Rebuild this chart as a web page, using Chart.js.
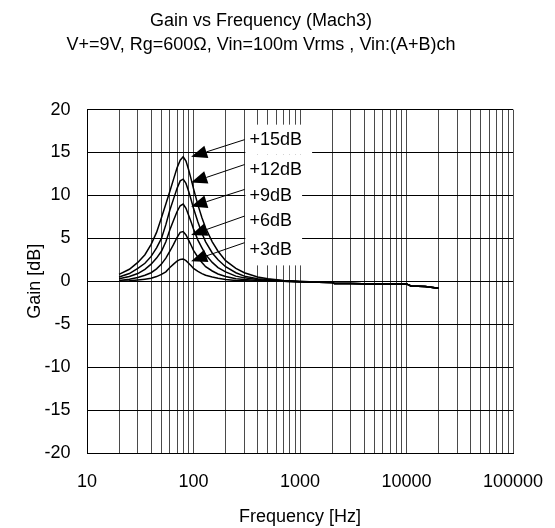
<!DOCTYPE html>
<html>
<head>
<meta charset="utf-8">
<script src="https://cdn.jsdelivr.net/npm/chart.js@4"></script>
<style>
  body { margin: 0; background: #fff; }
  canvas { display: block; }
</style>
</head>
<body>
<canvas id="gain-chart" width="555" height="528"></canvas>
<script>
Chart.defaults.font.family = "'Liberation Sans', Arial, sans-serif";
Chart.defaults.font.size = 18;
Chart.defaults.color = '#000';

// frequency points [Hz]
const freq = [20, 25, 30, 35, 40, 45, 50, 55, 60, 65, 70, 75, 80, 85, 90, 95, 100, 110, 120, 130,
    150, 170, 200, 250, 300, 400, 500, 700, 1000, 1500, 2000, 2100, 3000, 5000, 7000, 10000, 11000, 15000, 20000];

// gain [dB] for each boost setting
const gain15 = [0.8, 1.4, 2.2, 3.1, 4.3, 5.7, 7.4, 9.0, 10.5, 11.9, 13.2, 14.1, 14.5, 14.0, 13.0, 11.9, 10.8, 8.9, 7.4, 6.2,
    4.6, 3.5, 2.4, 1.5, 1.0, 0.5, 0.3, 0.1, 0.0, -0.1, -0.15, -0.25, -0.25, -0.3, -0.3, -0.3, -0.55, -0.6, -0.8];
const gain12 = [0.5, 0.9, 1.5, 2.1, 2.9, 3.9, 5.0, 6.6, 8.3, 9.6, 10.8, 11.7, 11.9, 11.4, 10.5, 9.5, 8.5, 6.9, 5.6, 4.6,
    3.3, 2.5, 1.7, 1.0, 0.6, 0.3, 0.2, 0.05, -0.05, -0.1, -0.15, -0.25, -0.25, -0.3, -0.3, -0.3, -0.55, -0.6, -0.8];
const gain9 = [0.3, 0.55, 0.9, 1.4, 2.0, 2.7, 3.5, 4.6, 6.0, 7.1, 8.1, 8.8, 9.0, 8.5, 7.7, 6.9, 6.1, 4.8, 3.9, 3.1,
    2.2, 1.6, 1.1, 0.6, 0.4, 0.2, 0.1, 0.0, -0.05, -0.1, -0.15, -0.25, -0.25, -0.3, -0.3, -0.3, -0.55, -0.6, -0.8];
const gain6 = [0.1, 0.25, 0.45, 0.7, 1.0, 1.45, 2.0, 2.7, 3.5, 4.3, 5.1, 5.7, 5.8, 5.4, 4.8, 4.2, 3.6, 2.8, 2.2, 1.7,
    1.2, 0.85, 0.55, 0.3, 0.2, 0.1, 0.05, 0.0, -0.05, -0.1, -0.15, -0.25, -0.25, -0.3, -0.3, -0.3, -0.55, -0.6, -0.8];
const gain3 = [0.0, 0.05, 0.15, 0.25, 0.35, 0.55, 0.8, 1.1, 1.6, 2.0, 2.35, 2.55, 2.6, 2.4, 2.1, 1.8, 1.5, 1.15, 0.9, 0.7,
    0.5, 0.35, 0.2, 0.1, 0.05, 0.0, 0.0, 0.0, -0.05, -0.1, -0.15, -0.25, -0.25, -0.3, -0.3, -0.3, -0.55, -0.6, -0.8];

// annotation labels and arrows
const labelText = ['+15dB', '+12dB', '+9dB', '+6dB', '+3dB'];
const labelDb = [16.5, 13.0, 9.9, 7.0, 3.6];
const arrowStartDb = [16.5, 13.6, 10.7, 7.6, 4.5];
const arrowTipDb = [14.5, 11.5, 8.7, 5.4, 2.35];
const arrowStartHz = 302;
const arrowTipHz = 95;
const labelHz = 336;

// x grid: 1..9 x each decade
const xGridValues = [];
for (let decade = 10; decade < 100000; decade *= 10) {
    for (let m = 1; m <= 9; m++) xGridValues.push(decade * m);
}
xGridValues.push(100000);

const series = [gain15, gain12, gain9, gain6, gain3];

function toPoints(values) {
    return freq.map((f, i) => ({ x: f, y: values[i] }));
}

const annotations = {
    id: 'annotations',
    afterDatasetsDraw(chart) {
        const { ctx, scales: { x, y } } = chart;
        ctx.save();
        ctx.font = "18px 'Liberation Sans', Arial, sans-serif";
        ctx.textBaseline = 'middle';
        ctx.textAlign = 'left';

        const boxLeft = x.getPixelForValue(300) + 1;
        const textLeft = x.getPixelForValue(labelHz);

        // white boxes behind labels
        ctx.fillStyle = '#fff';
        labelText.forEach((text, i) => {
            const cy = y.getPixelForValue(labelDb[i]);
            const right = textLeft + ctx.measureText(text).width + 10;
            ctx.fillRect(boxLeft, cy - 15, right - boxLeft, 30);
        });

        ctx.fillStyle = '#000';
        ctx.strokeStyle = '#000';
        ctx.lineWidth = 1;
        labelText.forEach((text, i) => {
            const cy = y.getPixelForValue(labelDb[i]);
            ctx.fillText(text, textLeft, cy);

            const x0 = x.getPixelForValue(arrowStartHz);
            const y0 = y.getPixelForValue(arrowStartDb[i]);
            const x1 = x.getPixelForValue(arrowTipHz);
            const y1 = y.getPixelForValue(arrowTipDb[i]);
            const ang = Math.atan2(y1 - y0, x1 - x0);
            const len = 16, half = 6.5;
            const bx = x1 - len * Math.cos(ang);
            const by = y1 - len * Math.sin(ang);

            ctx.beginPath();
            ctx.moveTo(x0, y0);
            ctx.lineTo(bx, by);
            ctx.stroke();

            ctx.beginPath();
            ctx.moveTo(x1, y1);
            ctx.lineTo(bx + half * Math.sin(ang), by - half * Math.cos(ang));
            ctx.lineTo(bx - half * Math.sin(ang), by + half * Math.cos(ang));
            ctx.closePath();
            ctx.fill();
        });
        ctx.restore();
    }
};

new Chart(document.getElementById('gain-chart'), {
    type: 'line',
    data: {
        datasets: series.map((values, i) => ({
            label: labelText[i],
            data: toPoints(values),
            borderColor: '#000',
            borderWidth: 1.5,
            pointRadius: 0,
            tension: 0,
            fill: false
        }))
    },
    options: {
        responsive: false,
        animation: false,
        events: [],
        layout: { padding: { left: 9, right: 42, top: 0, bottom: 0 } },
        plugins: {
            legend: { display: false },
            tooltip: { enabled: false },
            title: {
                display: true,
                text: ['Gain vs Frequency (Mach3)', 'V+=9V, Rg=600\u03A9, Vin=100m Vrms , Vin:(A+B)ch'],
                color: '#000',
                font: { size: 18, weight: 'normal', lineHeight: 1.35 },
                padding: { top: 9, bottom: 52 }
            }
        },
        scales: {
            x: {
                type: 'logarithmic',
                min: 10,
                max: 100000,
                afterBuildTicks: scale => {
                    scale.ticks = xGridValues.map(v => ({ value: v }));
                },
                afterFit: scale => {
                    scale.height = 75;
                    scale.paddingLeft = 0;
                    scale.paddingRight = 0;
                },
                ticks: {
                    autoSkip: false,
                    maxRotation: 0,
                    padding: 18.5,
                    callback: value => Number.isInteger(Math.log10(value)) ? String(value) : ''
                },
                grid: { color: '#4a4a4a', lineWidth: 1, drawTicks: false },
                border: { color: '#000', width: 1 },
                title: {
                    display: true,
                    text: 'Frequency [Hz]',
                    font: { size: 18 },
                    padding: { top: 0, bottom: 0 }
                }
            },
            y: {
                min: -20,
                max: 20,
                afterFit: scale => {
                    scale.width = 78;
                    scale.paddingTop = 0;
                    scale.paddingBottom = 0;
                },
                ticks: { stepSize: 5, padding: 16.5 },
                grid: { color: '#000', lineWidth: 1, drawTicks: false },
                border: { color: '#000', width: 1 },
                title: {
                    display: true,
                    text: 'Gain [dB]',
                    font: { size: 18 },
                    padding: { top: 15, bottom: 0 }
                }
            }
        }
    },
    plugins: [annotations]
});
</script>
</body>
</html>
